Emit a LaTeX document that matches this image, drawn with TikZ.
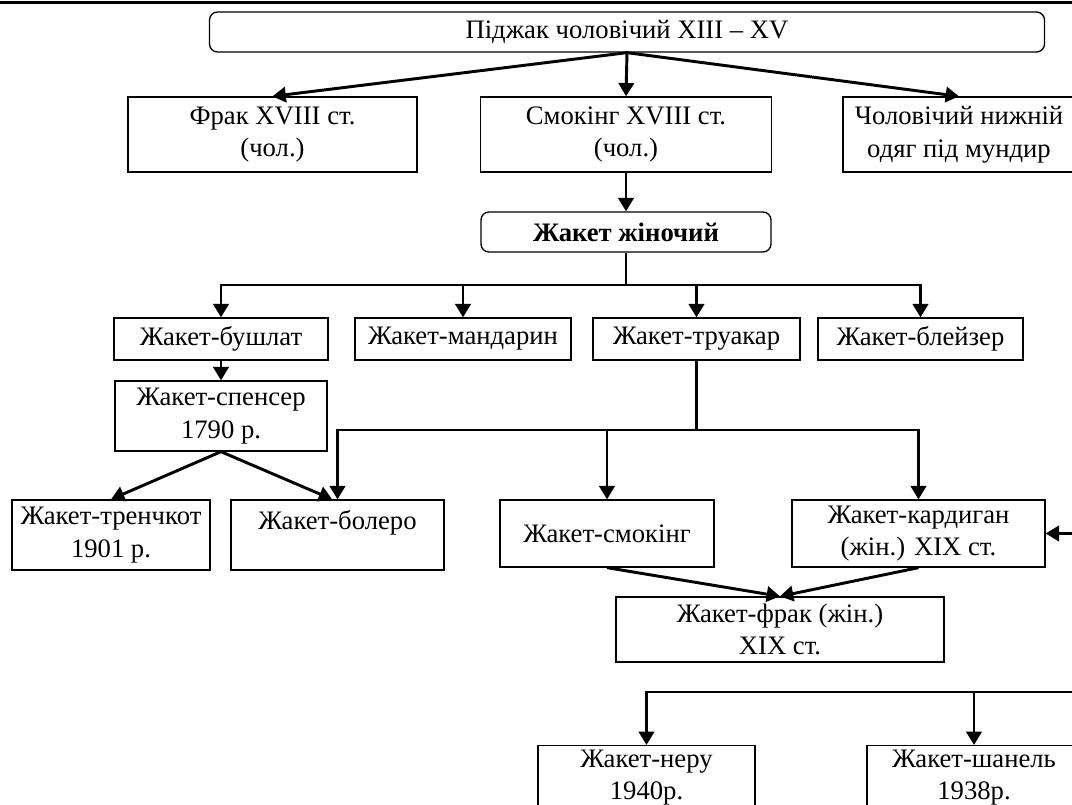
\documentclass[tikz,border=0pt]{standalone}
\usepackage{fontspec}
\setmainfont{Liberation Serif}
\usetikzlibrary{arrows.meta, positioning, calc}

\tikzset{
  box/.style={draw, line width=1pt, inner sep=2pt, align=center, font=\fontsize{20}{24.5}\selectfont},
  rbox/.style={box, rounded corners=6pt},
  sz/.style 2 args={minimum width=#1*0.75pt, minimum height=#2*0.75pt},
  link/.style={line width=2.2pt},
  arr/.style={link, -{Triangle[length=10pt,width=11.5pt]}},
}

\begin{document}
\begin{tikzpicture}[x=0.75pt, y=-0.75pt]
\useasboundingbox (0,0) rectangle (1072,805);
\draw[line width=2.25pt] (0,3) -- (1072,3);

% nodes
\node[rbox, sz={835}{40}] (jacket) at (627,32) {Піджак чоловічий XIII – XV};
\node[box, sz={289}{75}] (frak) at (272.5,134.5) {Фрак XVIII ст.\\(чол.)};
\node[box, sz={291}{75}] (smoking) at (626,134.5) {Смокінг XVIII ст.\\(чол.)};
\node[box, sz={232}{75}] (under) at (959,134.5) {Чоловічий нижній\\одяг під мундир};
\node[rbox, sz={290}{40}] (women) at (626,232) {\textbf{Жакет жіночий}};
\node[box, sz={214}{42}] (bushlat) at (221,339) {Жакет-бушлат};
\node[box, sz={216}{42}] (mandarin) at (463,339) {Жакет-мандарин};
\node[box, sz={207}{42}] (truakar) at (696.5,339) {Жакет-труакар};
\node[box, sz={205}{42}] (blazer) at (920.5,339) {Жакет-блейзер};
\node[box, sz={212}{70}] (spencer) at (221,416) {Жакет-спенсер\\1790 р.};
\node[box, sz={198}{70}] (trench) at (111,535) {Жакет-тренчкот\\1901 р.};
\node[box, sz={213}{70}, text height=14pt, text depth=22pt] (bolero) at (337.5,535) {Жакет-болеро};
\node[box, sz={214}{67}] (smokingw) at (607,533.5) {Жакет-смокінг};
\node[box, sz={253}{67}] (cardigan) at (918.5,533.5) {Жакет-кардиган\\(жін.) XIX ст.};
\node[box, sz={328}{65}] (frakw) at (780,629.5) {Жакет-фрак (жін.)\\XIX ст.};
\node[box, anchor=north, minimum width=217*0.75pt, inner ysep=3pt] (neru) at (646.5,745) {Жакет-неру\\1940р.};
\node[box, anchor=north, minimum width=214*0.75pt, inner ysep=3pt] (chanel) at (974,745) {Жакет-шанель\\1938р.};

% links
\draw[arr] (jacket.south) -- (frak.north);
\draw[arr] (jacket.south) -- (smoking.north);
\draw[arr] (jacket.south) -- (under.north);
\draw[arr] (smoking) -- (women);

\coordinate (bus1) at (626,285);
\draw[link] (women.south) -- (bus1);
\draw[arr] (bus1) -| (bushlat.north);
\draw[arr] (bus1) -| (blazer.north);
\foreach \n in {mandarin, truakar}
  \draw[arr] (\n.north |- bus1) -- (\n.north);

\draw[arr] (bushlat) -- (spencer);
\draw[arr] (spencer.south) -- (trench.north);
\draw[arr] (spencer.south) -- ([xshift=-4pt]bolero.north);

\coordinate (bus2) at (696.5,430);
\draw[link] (truakar.south) -- (bus2);
\draw[arr] (bus2) -| (bolero.north);
\draw[arr] (bus2) -| (cardigan.north);
\draw[arr] (smokingw.north |- bus2) -- (smokingw.north);

\draw[arr] (smokingw.south) -- (frakw.north);
\draw[arr] (cardigan.south) -- (frakw.north);
\coordinate (fromright) at (1072,533.5);
\draw[arr] (fromright) -- (cardigan.east);

\coordinate (bus3) at (1072,692);
\draw[arr] (bus3) -| (neru.north);
\draw[arr] (chanel.north |- bus3) -- (chanel.north);
\end{tikzpicture}
\end{document}
